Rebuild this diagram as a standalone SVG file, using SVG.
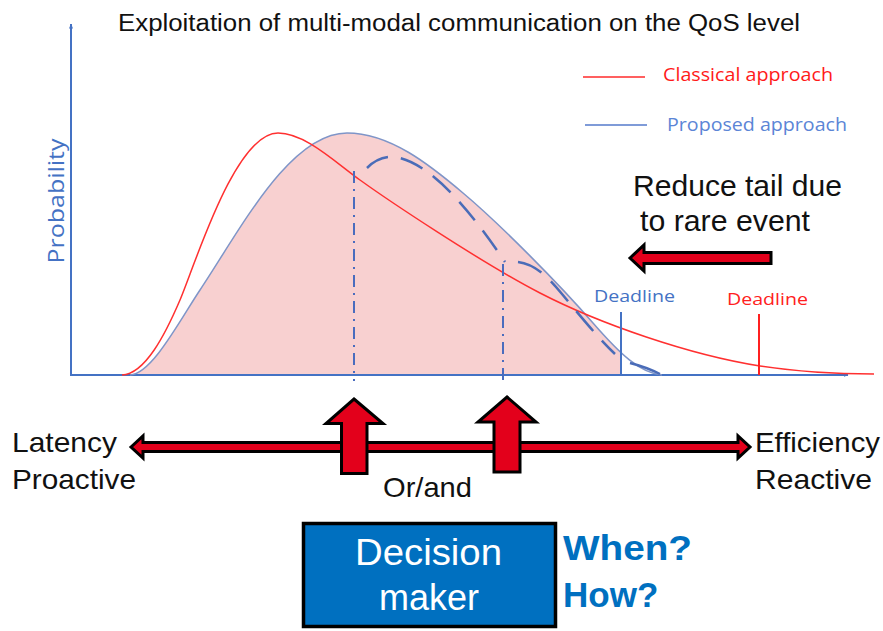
<svg xmlns="http://www.w3.org/2000/svg" width="883" height="631" viewBox="0 0 883 631">
<style>
.t{font-family:"Liberation Sans",Arial,sans-serif;fill:#111}
.c{font-family:"Open Sans","Liberation Sans",sans-serif}
.axis{stroke:#4472C4;stroke-width:2;fill:none}
.blk{fill:#E3001B;stroke:#000;stroke-width:3;stroke-linejoin:miter}
.dd{stroke:#4A6CBE;stroke-width:2;fill:none;stroke-dasharray:12 6 2 6}
</style>
<defs>
<marker id="ah" viewBox="0 0 10 10" refX="9" refY="5" markerWidth="5" markerHeight="5" orient="auto" markerUnits="userSpaceOnUse">
<path d="M0,1 L10,5 L0,9 Z" fill="#4472C4"/>
</marker>
<clipPath id="cl"><rect x="0" y="0" width="621" height="400"/></clipPath>
</defs>
<rect width="883" height="631" fill="#fff"/>

<text class="t" x="118" y="31" font-size="23" textLength="682" lengthAdjust="spacingAndGlyphs">Exploitation of multi-modal communication on the QoS level</text>

<g id="fill">
<path clip-path="url(#cl)" fill="#F8D0D0" d="M130,375 C152,374 180,320 200,290 C240,230 290,133 347,133 C390,133 430,165 463,193 C500,224 560,285 593,323 C620,354 640,373 662,375 Z"/>
</g>

<g id="axes">
<path class="axis" d="M71,375 V24" marker-end="url(#ah)"/>
<path class="axis" d="M70,375 H848" marker-end="url(#ah)"/>
<text class="c" transform="translate(64,201) rotate(-90)" font-size="22" fill="#4472C4" text-anchor="middle" textLength="125" lengthAdjust="spacingAndGlyphs">Probability</text>
</g>

<g id="proposed">
<path fill="none" stroke="#7F95C8" stroke-width="1.5" d="M130,375 C152,374 180,320 200,290 C240,230 290,133 347,133 C390,133 430,165 463,193 C500,224 560,285 593,323 C620,354 640,373 662,375"/>
</g>

<g id="classical">
<path fill="none" stroke="#FF3030" stroke-width="1.5" d="M122,375 C145,374 165,335 180,300 C195,265 235,133 278,133 C305,133 335,162 360,180 C385,198 480,262 540,293 C600,324 690,355 760,366 C800,372.3 840,374 874,374"/>
</g>

<g id="dashed">
<path fill="none" stroke="#4A6CB8" stroke-width="2.5" stroke-dasharray="24 13" d="M367,168 C375,160 385,156 395,157 C430,162 470,210 505,262"/>
<path fill="none" stroke="#4A6CB8" stroke-width="2.5" stroke-dasharray="26 13" d="M518,262 C535,264 548,277 562,294 C582,318 600,340 615,354"/>
<path fill="none" stroke="#4A6CB8" stroke-width="2.5" d="M630,363 C642,366 652,370 660,374"/>
<path class="dd" d="M354,171 V381"/>
<path class="dd" d="M503,264 V381"/>
</g>

<g id="deadlines">
<path d="M621,312 V375" stroke="#4472C4" stroke-width="2"/>
<text class="c" x="594" y="302" font-size="17" fill="#4472C4" textLength="81" lengthAdjust="spacingAndGlyphs">Deadline</text>
<path d="M759,314 V375" stroke="#FF2020" stroke-width="2"/>
<text class="c" x="727" y="305" font-size="17" fill="#FF2020" textLength="81" lengthAdjust="spacingAndGlyphs">Deadline</text>
</g>

<g id="legend">
<path d="M583,77 H645" stroke="#FF6060" stroke-width="2"/>
<text class="c" x="663" y="81" font-size="18" fill="#FF1A1A" textLength="170" lengthAdjust="spacingAndGlyphs">Classical approach</text>
<path d="M585,125 H647" stroke="#7F9BD8" stroke-width="2"/>
<text class="c" x="667" y="131" font-size="18" fill="#5B85D6" textLength="180" lengthAdjust="spacingAndGlyphs">Proposed approach</text>
</g>

<g id="reduce">
<text class="t" x="633" y="196" font-size="29" textLength="209" lengthAdjust="spacingAndGlyphs">Reduce tail due</text>
<text class="t" x="640" y="231" font-size="29" textLength="170" lengthAdjust="spacingAndGlyphs">to rare event</text>
<polygon class="blk" points="630,258 644,245 644,252.5 771,252.5 771,263.5 644,263.5 644,271"/>
</g>

<g id="scale">
<polygon class="blk" points="131,447 143,436 143,442.5 738,442.5 738,436 750,447 738,458 738,451.5 143,451.5 143,458"/>
<polygon class="blk" points="354,399 383,423.5 367,423.5 367,473.5 341.5,473.5 341.5,423.5 326,423.5"/>
<polygon class="blk" points="507,397 536,422 520,422 520,472 494,472 494,422 478,422"/>
<text class="t" x="12" y="452" font-size="28" textLength="105" lengthAdjust="spacingAndGlyphs">Latency</text>
<text class="t" x="12" y="489" font-size="28" textLength="124" lengthAdjust="spacingAndGlyphs">Proactive</text>
<text class="t" x="755" y="452" font-size="28" textLength="125" lengthAdjust="spacingAndGlyphs">Efficiency</text>
<text class="t" x="755" y="489" font-size="28" textLength="117" lengthAdjust="spacingAndGlyphs">Reactive</text>
<text class="t" x="383" y="497" font-size="28" textLength="89" lengthAdjust="spacingAndGlyphs">Or/and</text>
</g>

<g id="decision">
<rect x="303.5" y="523.5" width="252" height="103" fill="#0070C0" stroke="#000" stroke-width="3.5"/>
<text class="t" x="355" y="565" font-size="36" style="fill:#fff" textLength="147" lengthAdjust="spacingAndGlyphs">Decision</text>
<text class="t" x="429" y="610" font-size="36" style="fill:#fff" text-anchor="middle">maker</text>
<text class="t" x="563" y="560" font-size="35" font-weight="bold" style="fill:#0070C0" textLength="129" lengthAdjust="spacingAndGlyphs">When?</text>
<text class="t" x="563" y="607" font-size="35" font-weight="bold" style="fill:#0070C0">How?</text>
</g>
</svg>
